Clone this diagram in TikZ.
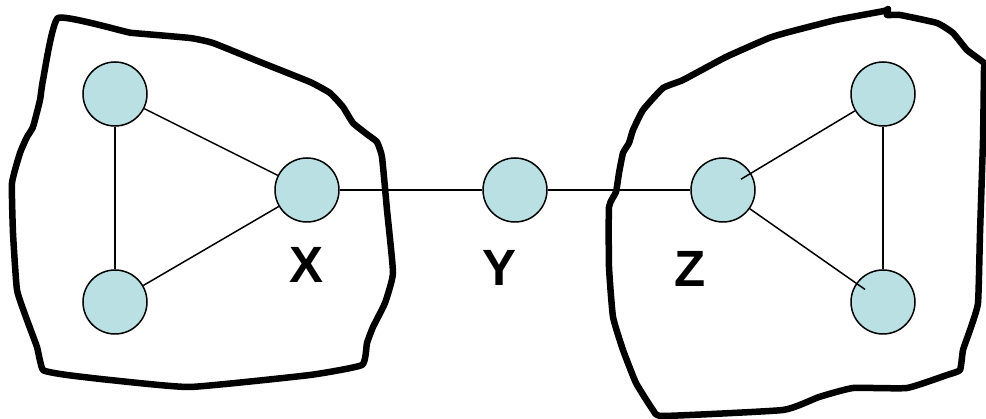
\documentclass[tikz,border=0pt]{standalone}
\usepackage{fontspec}
\setmainfont{Liberation Sans}
\usetikzlibrary{calc}
\definecolor{nodefill}{HTML}{BBE0E3}
\begin{document}
\begin{tikzpicture}[x=1pt,y=-1pt,
  vert/.style={circle,draw=black,line width=1.5pt,fill=nodefill,minimum size=64pt,inner sep=0pt},
  conn/.style={line width=1.5pt,black},
  blob/.style={line width=6.5pt,line join=round,line cap=round},
  lbl/.style={font=\fontsize{51}{51}\selectfont\bfseries}]
\useasboundingbox (0,0) rectangle (986,419);
% blobs
\draw[blob] plot[smooth cycle,tension=0.25] coordinates {
 (58,18) (127,32) (133,33) (190,38) (213,43) (260,62) (310,82) (330,93) (343,107)
 (353,123) (368,135) (377,142) (382,157) (387,210) (393,273) (385,303) (373,327)
 (367,343) (362,365) (310,375) (190,387) (110,380) (67,375) (43,370) (37,347)
 (27,320) (17,290) (13,233) (12,183) (20,153) (27,137) (33,127) (40,100) (43,80)};
\draw[blob] plot[smooth cycle,tension=0.25] coordinates {
 (836,20) (884,11) (888,9) (887,15) (900,15) (937,23) (953,33) (967,50) (984,63)
 (984,70) (983,140) (980,233) (978,303) (970,330) (963,350) (960,370) (947,375)
 (907,388) (853,388) (819,397) (783,410) (663,416) (653,410) (636,383) (623,350)
 (613,317) (609,267) (609,207) (616,192) (619,173) (623,153) (629,143) (633,130)
 (643,110) (663,88) (683,80) (726,57) (769,38) (789,32)};
% nodes
\node[vert] (a) at (115,94) {};
\node[vert] (b) at (115,302) {};
\node[vert] (x) at (307,190) {};
\node[vert] (y) at (515,190) {};
\node[vert] (z) at (723,190) {};
\node[vert] (br) at (883,302) {};
% connectors
\draw[conn] (a) -- (b);
\draw[conn] (a) -- (x);
\draw[conn] (b) -- (x);
\draw[conn] (x) -- (y);
\draw[conn] (y) -- (z);
\draw[conn] (z) -- ($(br.center)!22pt!(z.center)$);
\node[vert] (tr) at (883,94) {};
\draw[conn] ($(z.center)!21pt!(tr.center)$) -- (tr);
\draw[conn] (tr) -- (br);
% labels
\node[lbl] (lx) at (307,265) {X};
\node[lbl] (ly) at (500,268) {Y};
\node[lbl] (lz) at (690,269) {Z};
\end{tikzpicture}
\end{document}
